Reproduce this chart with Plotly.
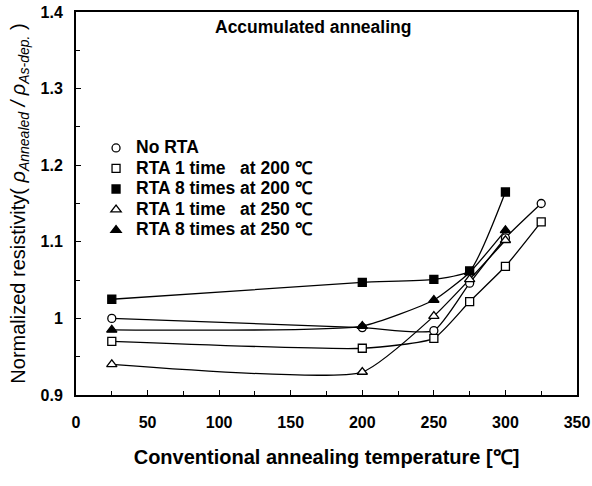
import plotly.graph_objects as go

temps_a = [25, 200, 250, 275, 300, 325]
temps_b = [25, 200, 250, 275, 300]

no_rta = [1.000, 0.988, 0.984, 1.046, 1.105, 1.150]
rta1_200 = [0.970, 0.961, 0.974, 1.022, 1.068, 1.126]
rta8_200 = [1.025, 1.047, 1.051, 1.062, 1.165]
rta1_250 = [0.940, 0.930, 1.003, 1.051, 1.102]
rta8_250 = [0.985, 0.990, 1.024, 1.060, 1.115]

names = ["No RTA", "RTA 1 time\u00a0\u00a0 at 200 \u2103", "RTA 8 times at 200 \u2103",
         "RTA 1 time\u00a0\u00a0 at 250 \u2103", "RTA 8 times at 250 \u2103"]
series = [(temps_a, no_rta, "circle", 8, "white"),
          (temps_a, rta1_200, "square", 8, "white"),
          (temps_b, rta8_200, "square", 8, "black"),
          (temps_b, rta1_250, "triangle-up", 9, "white"),
          (temps_b, rta8_250, "triangle-up", 9, "black")]

FONT = "Liberation Sans, Arial"

fig = go.Figure()
for name, (xs, ys, sym, sz, fc) in zip(names, series):
    fig.add_trace(go.Scatter(x=xs, y=ys, mode="lines", line=dict(color="black", width=1.3, shape="spline", smoothing=0.5),
                             showlegend=False, hoverinfo="skip"))
for name, (xs, ys, sym, sz, fc) in zip(names, series):
    fig.add_trace(go.Scatter(x=xs, y=ys, mode="markers",
                             name="<span style='font-size:17.5px'>%s</span>" % name,
                             marker=dict(symbol=sym, size=sz, color=fc,
                                         line=dict(color="black", width=1.3))))

axis_common = dict(showline=True, linecolor="black", linewidth=2, mirror=True, ticks="inside",
                   tickcolor="black", showgrid=False, zeroline=False, automargin=False,
                   tickfont=dict(family=FONT, size=16, color="black"))

xt = [0, 50, 100, 150, 200, 250, 300, 350]
fig.update_xaxes(range=[0, 350], tickvals=xt, ticktext=["<b>%d</b>" % v for v in xt], ticklen=5,
                 minor=dict(ticks="inside", dtick=25, ticklen=4, tickcolor="black"),
                 ticklabelstandoff=12,
                 title=dict(text="<b>Conventional annealing temperature [\u2103]</b>",
                            font=dict(family=FONT, size=20, color="black"), standoff=20),
                 **axis_common)
fig.update_yaxes(range=[0.9, 1.4], tickvals=[0.9, 1.0, 1.1, 1.2, 1.3, 1.4],
                 ticktext=["<b>0.9</b>", "<b>1</b>", "<b>1.1</b>", "<b>1.2</b>", "<b>1.3</b>", "<b>1.4</b>"],
                 ticklen=5, minor=dict(ticks="inside", dtick=0.05, ticklen=4, tickcolor="black"),
                 ticklabelstandoff=8,
                 title=dict(text="Normalized resistivity( <i>\u03c1<sub>Annealed</sub> / \u03c1<sub>As-dep.</sub></i> )",
                            font=dict(family=FONT, size=20, color="black"), standoff=10),
                 **axis_common)

fig.add_annotation(text="<b>Accumulated annealing</b>", x=0.473, y=0.961, xref="paper", yref="paper",
                   xanchor="center", yanchor="middle", showarrow=False,
                   font=dict(family=FONT, size=17.5, color="black"))

fig.update_layout(width=592, height=486, margin=dict(l=76, r=15, t=12, b=91, autoexpand=False),
                  paper_bgcolor="white", plot_bgcolor="white",
                  legend=dict(x=0.04, y=0.685, xanchor="left", yanchor="top", bgcolor="rgba(0,0,0,0)",
                              font=dict(family=FONT, size=13.5, color="black", weight="bold"),
                              itemwidth=30, tracegroupgap=0),
                  font=dict(family=FONT, color="black"))

fig.write_html("out.html")
